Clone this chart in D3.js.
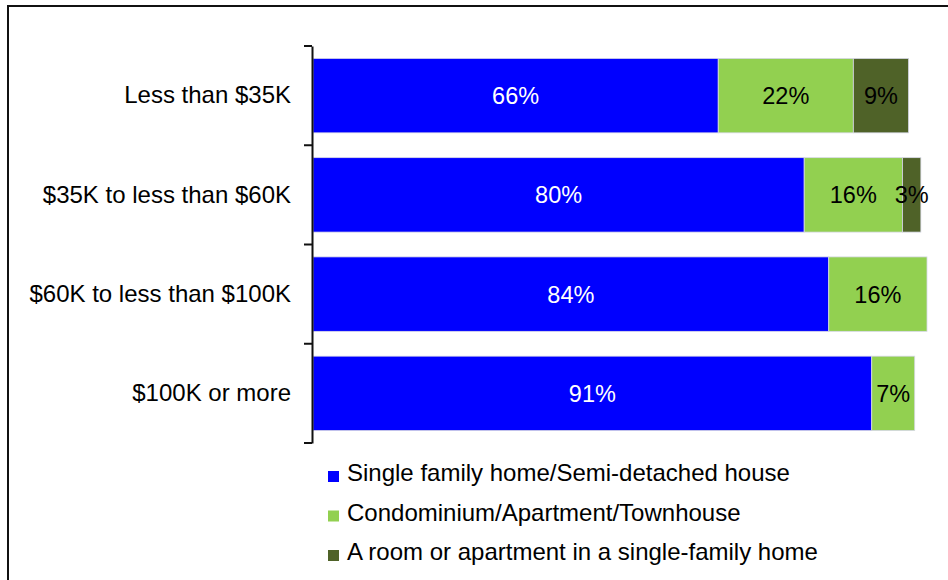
<!DOCTYPE html>
<html>
<head>
<meta charset="utf-8">
<script src="https://cdn.jsdelivr.net/npm/d3@7"></script>
<style>
  html, body { margin: 0; padding: 0; background: #fff; }
  svg { display: block; font-family: "Liberation Sans", Arial, sans-serif; }
</style>
</head>
<body>
<div id="main"></div>
<script>
"use strict";

// income groups (top to bottom)
const categories = ["Less than $35K", "$35K to less than $60K", "$60K to less than $100K", "$100K or more"];
// housing type series
const seriesNames = [
    "Single family home/Semi-detached house",
    "Condominium/Apartment/Townhouse",
    "A room or apartment in a single-family home"
];
const singleFamily = [66, 80, 84, 91];
const condo = [22, 16, 16, 7];
const roomInHome = [9, 3, 0, 0];
const seriesColors = ["#0000ff", "#92d050", "#4f6228"];
const labelColors = ["#ffffff", "#000000", "#000000"];

const width = 948, height = 580;

function draw() {
    const svg = d3.select("#main").append("svg")
        .attr("width", width)
        .attr("height", height);

    // outer frame (bottom and right run off the picture)
    svg.append("rect")
        .attr("x", 8).attr("y", 6)
        .attr("width", width + 20).attr("height", height + 20)
        .attr("fill", "none")
        .attr("stroke", "#111")
        .attr("stroke-width", 2);

    const x = d3.scaleLinear().domain([0, 100]).range([313, 927]);
    const y = d3.scaleBand().domain(categories).range([46, 443])
        .paddingInner(0.25).paddingOuter(0.125);

    // build stacked table
    const table = categories.map((c, i) => ({
        category: c,
        s0: singleFamily[i], s1: condo[i], s2: roomInHome[i]
    }));
    const stack = d3.stack().keys(["s0", "s1", "s2"])(table);

    const layers = svg.append("g").selectAll("g")
        .data(stack)
        .join("g")
        .attr("fill", (d, i) => seriesColors[i]);

    layers.selectAll("rect")
        .data(d => d.filter(p => p[1] - p[0] > 0))
        .join("rect")
        .attr("x", d => x(d[0]))
        .attr("y", d => y(d.data.category))
        .attr("width", d => x(d[1]) - x(d[0]))
        .attr("height", y.bandwidth())
        .attr("stroke", "#d8d8e8")
        .attr("stroke-width", 0.8);

    // value labels
    stack.forEach((layer, i) => {
        svg.append("g").selectAll("text")
            .data(layer.filter(p => p[1] - p[0] > 0))
            .join("text")
            .attr("x", d => (x(d[0]) + x(d[1])) / 2)
            .attr("y", d => y(d.data.category) + y.bandwidth() / 2)
            .attr("dy", "0.36em")
            .attr("text-anchor", "middle")
            .attr("fill", labelColors[i])
            .style("font-size", "23.5px")
            .text(d => (d[1] - d[0]) + "%");
    });

    // category axis
    const axis = svg.append("g")
        .attr("transform", "translate(312,0)")
        .call(d3.axisLeft(y).tickSize(0).tickPadding(21).tickSizeOuter(0));
    axis.select(".domain").attr("stroke", "#111").attr("stroke-width", 2);
    axis.selectAll(".tick text")
        .attr("fill", "#000")
        .style("font-size", "24px")
        .style("font-family", "'Liberation Sans', Arial, sans-serif");

    // tick marks sit on the category boundaries
    const bounds = d3.range(categories.length + 1).map(i => 46 + i * y.step());
    axis.selectAll("line.bound")
        .data(bounds)
        .join("line")
        .attr("class", "bound")
        .attr("x1", -8).attr("x2", 0)
        .attr("y1", d => d).attr("y2", d => d)
        .attr("stroke", "#111")
        .attr("stroke-width", 2);

    // legend
    const legend = svg.append("g").selectAll("g")
        .data(seriesNames)
        .join("g")
        .attr("transform", (d, i) => `translate(328,${481 + i * 39.5})`);
    legend.append("rect")
        .attr("x", 0).attr("y", -10)
        .attr("width", 11).attr("height", 11)
        .attr("fill", (d, i) => seriesColors[i]);
    legend.append("text")
        .attr("x", 19).attr("y", 0)
        .attr("fill", "#000")
        .style("font-size", "24px")
        .text(d => d);
}

draw();
</script>
</body>
</html>
